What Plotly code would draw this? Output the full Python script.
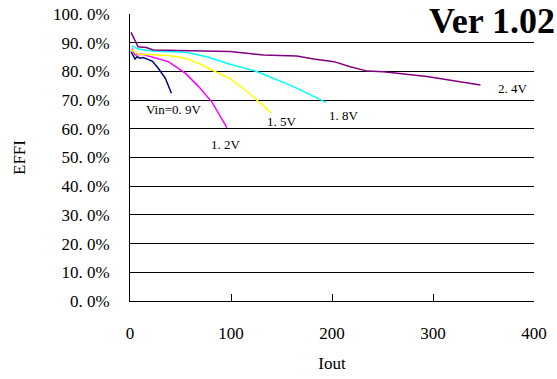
import plotly.graph_objects as go

# Iout values and efficiency (%) per input voltage
iout_09 = [1, 5, 7, 10, 13, 18, 22, 28, 35, 41]
eff_09 = [86.9, 84.3, 85.1, 84.6, 84.8, 84.0, 83.6, 81.1, 77.6, 72.4]

iout_12 = [2, 5, 12, 22, 38, 55, 68, 81, 96]
eff_12 = [88.0, 85.7, 86.0, 85.1, 83.4, 79.3, 74.7, 69.4, 60.4]

iout_15 = [2, 8, 28, 38, 55, 68, 81, 99, 116, 129, 140]
eff_15 = [87.5, 86.0, 85.7, 85.5, 84.6, 82.8, 80.5, 77.5, 73.0, 69.0, 65.5]

iout_18 = [2, 8, 21, 55, 60, 76, 99, 126, 162, 179, 194]
eff_18 = [88.9, 87.8, 87.1, 86.7, 86.3, 85.1, 82.5, 79.9, 74.7, 71.8, 69.2]

iout_24 = [1, 8, 16, 23, 60, 99, 132, 165, 182, 202, 218, 235, 251, 294, 347]
eff_24 = [93.6, 88.6, 88.3, 87.5, 87.2, 86.9, 85.7, 85.4, 84.3, 83.4, 81.6, 80.1, 79.9, 78.2, 75.3]

y_tick_vals = [0, 10, 20, 30, 40, 50, 60, 70, 80, 90, 100]
y_tick_labels = ["0. 0%", "10. 0%", "20. 0%", "30. 0%", "40. 0%", "50. 0%",
                 "60. 0%", "70. 0%", "80. 0%", "90. 0%", "100. 0%"]
x_tick_vals = [0, 100, 200, 300, 400]

series_labels = ["Vin=0. 9V", "1. 2V", "1. 5V", "1. 8V", "2. 4V"]
label_x = [43.7, 95, 150, 212, 379]
label_y = [66.6, 54.4, 62.4, 64.8, 74.0]

serif = "Liberation Serif"

fig = go.Figure()
series = [
    (iout_09, eff_09, "#000080"),
    (iout_12, eff_12, "#FF00FF"),
    (iout_15, eff_15, "#FFFF00"),
    (iout_18, eff_18, "#00FFFF"),
    (iout_24, eff_24, "#800080"),
]
for xs, ys, c in series:
    fig.add_trace(go.Scatter(x=xs, y=ys, mode="lines",
                             line=dict(color=c, width=1.5),
                             showlegend=False, hoverinfo="skip"))

for t, lx, ly in zip(series_labels, label_x, label_y):
    fig.add_annotation(x=lx, y=ly, xref="x", yref="y", text=t, showarrow=False,
                       font=dict(family=serif, size=13, color="#000"))

fig.add_annotation(x=1.054, y=1.0488, xref="paper", yref="paper", text="<b>Ver 1.02</b>",
                   showarrow=False, xanchor="right", yanchor="top",
                   borderpad=0,
                   font=dict(family=serif, size=36, color="#000"))

fig.update_layout(
    width=557, height=379,
    margin=dict(l=130, r=23, t=14, b=78, autoexpand=False),
    paper_bgcolor="white", plot_bgcolor="white",
    font=dict(family=serif, size=17, color="#000"),
)
fig.update_xaxes(range=[0, 400], tickvals=x_tick_vals, automargin=False,
                 showline=True, linecolor="#000", linewidth=1,
                 ticks="inside", ticklen=7, tickcolor="#000",
                 showgrid=False, zeroline=False,
                 ticklabelstandoff=17,
                 title=dict(text="Iout", font=dict(family=serif, size=17), standoff=14))
fig.update_yaxes(range=[0, 100], tickvals=y_tick_vals, ticktext=y_tick_labels,
                 automargin=False,
                 showline=True, linecolor="#000", linewidth=1,
                 ticks="", showgrid=True, gridcolor="#000", gridwidth=1,
                 zeroline=False, ticklabelstandoff=16,
                 title=dict(text="EFFI", font=dict(family=serif, size=17), standoff=22))

fig.write_html("out.html", config={"displayModeBar": False},
               post_script="document.body.style.margin='0';document.body.style.overflow='hidden';")
